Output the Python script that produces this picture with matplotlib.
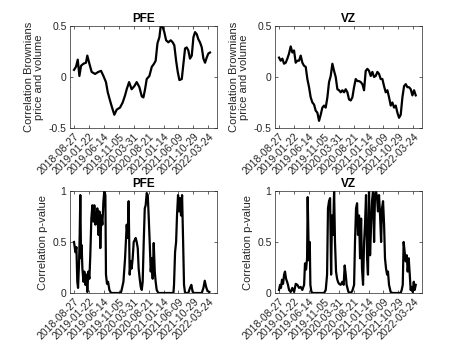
import numpy as np
import matplotlib
matplotlib.use("Agg")
import matplotlib.pyplot as plt

plt.rcParams['font.family'] = ['Liberation Sans', 'DejaVu Sans']

# tick dates (every 100 trading days)
tick_days = [0, 100, 200, 300, 400, 500, 600, 700, 800, 900]
tick_labels = ['2018-08-27', '2019-01-22', '2019-06-14', '2019-11-05', '2020-03-31',
               '2020-08-21', '2021-01-14', '2021-06-09', '2021-10-29', '2022-03-24']

# PFE rolling correlation
pfe_corr_days = [0, 13, 25, 36, 47, 63, 80, 89, 103, 118, 141, 163, 181, 197, 214, 226, 241,
                 255, 270, 286, 308, 326, 342, 353, 369, 386, 404, 420, 438, 454, 465, 476,
                 487, 505, 521, 536, 547, 559, 572, 581, 594, 605, 617, 632, 648, 661, 672,
                 684, 695, 706, 722, 733, 744, 755, 766, 777, 789, 800, 811, 822, 833, 844,
                 856, 867, 878, 889, 900, 911]
pfe_corr = [0.07, 0.10, 0.17, 0.01, 0.11, 0.13, 0.14, 0.21, 0.13, 0.05, 0.03, 0.05, 0.06,
            0.01, -0.05, -0.15, -0.23, -0.30, -0.37, -0.32, -0.30, -0.25, -0.18, -0.12,
            -0.05, -0.12, -0.09, -0.05, -0.10, -0.19, -0.20, -0.12, -0.02, 0.01, 0.10, 0.13,
            0.16, 0.33, 0.39, 0.50, 0.49, 0.44, 0.36, 0.34, 0.36, 0.34, 0.31, 0.16, 0.05,
            -0.03, -0.02, 0.13, 0.28, 0.29, 0.26, 0.18, 0.21, 0.39, 0.44, 0.42, 0.37, 0.34,
            0.29, 0.18, 0.14, 0.19, 0.23, 0.24]

# VZ rolling correlation, evenly spaced readings
vz_corr = [0.19, 0.16, 0.18, 0.13, 0.14, 0.18, 0.23, 0.30, 0.24, 0.26, 0.14, 0.16, 0.16,
           0.21, 0.14, 0.11, 0.10, -0.02, -0.10, -0.20, -0.25, -0.27, -0.33, -0.35, -0.43,
           -0.37, -0.30, -0.28, -0.30, -0.20, -0.05, 0.01, 0.13, 0.06, 0.00, -0.12, -0.13,
           -0.15, -0.13, -0.15, -0.12, -0.15, -0.22, -0.23, -0.20, -0.10, -0.02, -0.04,
           -0.04, -0.05, -0.07, -0.13, 0.06, 0.08, 0.06, 0.01, 0.05, 0.00, 0.01, 0.05, 0.03,
           -0.02, -0.02, -0.09, -0.15, -0.13, -0.20, -0.28, -0.25, -0.30, -0.28, -0.35,
           -0.40, -0.37, -0.20, -0.09, -0.07, -0.10, -0.10, -0.12, -0.18, -0.13, -0.18]
vz_corr_days = np.linspace(0, 916, len(vz_corr))

# PFE p-value
pfe_p_days = [0, 9, 16, 22, 27, 34, 38, 42, 47, 51, 56, 63, 69, 76, 83, 89, 96, 103, 109,
              116, 123, 130, 136, 143, 150, 156, 163, 170, 176, 183, 190, 197, 203, 210,
              214, 221, 228, 237, 248, 313, 319, 331, 342, 353, 360, 366, 373, 380, 386,
              393, 400, 407, 413, 420, 427, 433, 440, 447, 454, 460, 467, 474, 480, 487,
              494, 500, 507, 514, 521, 527, 534, 541, 547, 554, 565, 666, 670, 677, 684,
              690, 697, 704, 710, 717, 724, 731, 737, 744, 766, 777, 786, 795, 804, 856,
              867, 876, 885, 894, 907]
pfe_p = [0.50, 0.40, 0.45, 0.11, 0.05, 0.31, 0.57, 0.96, 0.34, 0.47, 0.24, 0.11, 0.21,
         0.08, 0.18, 0.01, 0.21, 0.14, 0.37, 0.73, 0.86, 0.70, 0.86, 0.67, 0.73, 0.83,
         0.57, 0.80, 0.44, 0.76, 0.67, 0.90, 1.00, 0.96, 0.18, 0.09, 0.11, 0.03, 0.00,
         0.00, 0.03, 0.11, 0.34, 0.67, 0.54, 0.90, 0.18, 0.31, 0.24, 0.34, 0.50, 0.52,
         0.54, 0.50, 0.44, 0.24, 0.14, 0.06, 0.03, 0.11, 0.50, 0.83, 0.86, 0.98, 0.96,
         0.76, 0.50, 0.21, 0.34, 0.14, 0.49, 0.21, 0.11, 0.03, 0.00, 0.00, 0.08, 0.40,
         0.50, 0.76, 0.96, 0.80, 0.93, 0.76, 0.96, 0.50, 0.08, 0.00, 0.00, 0.05, 0.08,
         0.01, 0.00, 0.00, 0.05, 0.12, 0.06, 0.02, 0.01]

# VZ p-value
vz_p_days = [0, 7, 13, 20, 27, 34, 40, 47, 54, 60, 67, 78, 89, 101, 112, 123, 134, 145,
             156, 168, 174, 181, 188, 192, 197, 201, 206, 210, 217, 228, 302, 313, 322,
             328, 335, 342, 349, 355, 362, 369, 375, 382, 389, 395, 402, 413, 424, 433,
             440, 447, 453, 465, 480, 491, 503, 509, 516, 523, 529, 536, 543, 550, 556,
             563, 570, 576, 583, 590, 596, 603, 610, 617, 623, 630, 637, 643, 650, 657,
             663, 670, 677, 684, 690, 697, 704, 710, 717, 724, 730, 737, 748, 760, 815,
             822, 829, 835, 842, 849, 856, 862, 869, 876, 882, 889, 896, 903, 909, 916]
vz_p = [0.03, 0.08, 0.05, 0.13, 0.09, 0.18, 0.21, 0.14, 0.11, 0.08, 0.03, 0.01, 0.05,
        0.01, 0.09, 0.08, 0.05, 0.06, 0.03, 0.08, 0.29, 0.23, 0.34, 0.94, 0.54, 0.32,
        0.50, 0.08, 0.01, 0.00, 0.00, 0.03, 0.18, 0.83, 0.90, 0.93, 0.18, 0.76, 0.57,
        1.00, 0.50, 0.21, 0.14, 0.11, 0.09, 0.08, 0.11, 0.08, 0.27, 0.18, 0.08, 0.01,
        0.00, 0.02, 0.08, 0.50, 0.83, 0.88, 0.57, 0.76, 0.34, 0.73, 0.24, 0.08, 0.50,
        0.67, 0.96, 0.34, 0.18, 1.00, 0.37, 0.67, 0.90, 1.00, 0.50, 0.96, 1.00, 0.93,
        0.80, 0.96, 0.76, 0.50, 0.83, 0.90, 0.67, 0.34, 0.24, 0.18, 0.21, 0.08, 0.01,
        0.00, 0.00, 0.03, 0.08, 0.50, 0.40, 0.31, 0.37, 0.21, 0.34, 0.18, 0.03, 0.06,
        0.01, 0.11, 0.03, 0.08]

fig = plt.figure(figsize=(4.67, 3.5), dpi=100)

W, H = 467, 350
def box(l, t, r, b):
    return [l / W, 1 - b / H, (r - l) / W, (b - t) / H]

panels = [
    (box(70, 26, 216.7, 128), pfe_corr_days, pfe_corr, 'PFE', (-0.5, 0.5), [-0.5, 0, 0.5], ['-0.5', '0', '0.5'], 'Correlation Brownians\nprice and volume'),
    (box(275, 26, 421.7, 128), vz_corr_days, vz_corr, 'VZ', (-0.5, 0.5), [-0.5, 0, 0.5], ['-0.5', '0', '0.5'], 'Correlation Brownians\nprice and volume'),
    (box(70, 191, 216.7, 293), pfe_p_days, pfe_p, 'PFE', (0, 1), [0, 0.5, 1], ['0', '0.5', '1'], 'Correlation p-value'),
    (box(275, 191, 421.7, 293), vz_p_days, vz_p, 'VZ', (0, 1), [0, 0.5, 1], ['0', '0.5', '1'], 'Correlation p-value'),
]

grey = '#262626'
for pos, xd, yd, title, ylim, yt, ytl, ylab in panels:
    ax = fig.add_axes(pos)
    ax.plot(xd, yd, color='k', lw=1.6)
    ax.set_xlim(-27, 956)
    ax.set_ylim(*ylim)
    ax.set_xticks(tick_days)
    ax.set_xticklabels(tick_labels, rotation=45, ha='right', va='top',
                       rotation_mode='anchor', fontsize=7.5, color=grey)
    ax.set_yticks(yt)
    ax.set_yticklabels(ytl, fontsize=7.5, color=grey)
    ax.tick_params(direction='in', length=2.5, width=0.5, top=True, right=True,
                   color=grey, pad=2.5)
    for s in ax.spines.values():
        s.set_linewidth(0.5)
        s.set_color(grey)
    ax.set_title(title, fontsize=8.5, fontweight='bold', pad=3)
    ax.set_ylabel(ylab, fontsize=8, color=grey, labelpad=3, linespacing=1.1)

fig.savefig('out.png', dpi=100)
